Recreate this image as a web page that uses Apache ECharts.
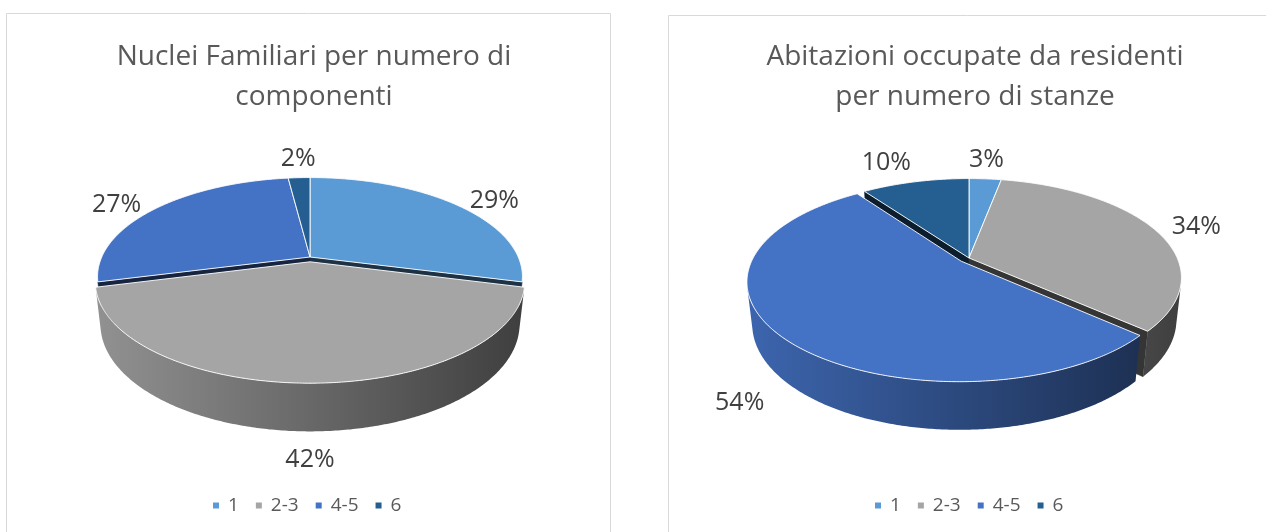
<!DOCTYPE html>
<html>
<head>
<meta charset="utf-8">
<style>
  html, body { margin: 0; background: #fff; }
  #chart { width: 1266px; height: 532px; }
</style>
<script src="https://cdn.jsdelivr.net/npm/echarts@6/dist/echarts.min.js"></script>
</head>
<body>
<div id="chart"></div>
<script>
const categories = ['1', '2-3', '4-5', '6'];
const nucleiValues = [29, 42, 27, 2];
const abitazioniValues = [3, 34, 54, 10];
const nucleiTitle = 'Nuclei Familiari per numero di\ncomponenti';
const abitazioniTitle = 'Abitazioni occupate da residenti\nper numero di stanze';

const sliceColors = ['#5b9bd5', '#a5a5a5', '#4472c4', '#255e91'];
const FONT = '"Open Sans", Lato, sans-serif';
const TEXT = '#595959';

// simple perspective camera for the tilted pies
const ELEV = 27.2 * Math.PI / 180;
const SIN = Math.sin(ELEV);
const COS = Math.cos(ELEV);
const DIST = 4.49;
const FOCAL = 935;
const DEPTH = 0.228;

function project(cx, cy, px, py, pz) {
  const dep = DIST - py * SIN - pz * COS;
  return [cx + FOCAL * px / dep, cy - FOCAL * (py * COS - pz * SIN) / dep];
}

function shade(hex, k) {
  const n = parseInt(hex.slice(1), 16);
  const r = Math.round(((n >> 16) & 255) * k);
  const g = Math.round(((n >> 8) & 255) * k);
  const b = Math.round((n & 255) * k);
  return `rgb(${r},${g},${b})`;
}

function pieSeries(values, cx, cy, explode) {
  const total = values.reduce((a, b) => a + b, 0);
  const starts = [];
  let acc = 0;
  values.forEach((v) => { starts.push(acc); acc += v; });

  return {
    type: 'custom',
    coordinateSystem: 'none',
    silent: true,
    data: values.map((v, i) => ({ name: categories[i], value: [i, v] })),
    renderItem(params, api) {
      const i = api.value(0);
      const v = api.value(1);
      const color = sliceColors[i];
      const a0 = starts[i] / total * 2 * Math.PI;
      const a1 = (starts[i] + v) / total * 2 * Math.PI;
      const am = (a0 + a1) / 2;
      const e = explode[i];
      const ex = e * Math.sin(am);
      const ez = -e * Math.cos(am);
      const P = (px, py, pz) => project(cx, cy, ex + px, py, ez + pz);
      const steps = Math.max(4, Math.ceil((a1 - a0) / 0.01));
      const children = [];

      // top face
      const top = [P(0, 0, 0)];
      const vis = [];
      for (let k = 0; k <= steps; k++) {
        const a = a0 + (a1 - a0) * k / steps;
        top.push(P(Math.sin(a), 0, -Math.cos(a)));
        if (-DIST * COS * Math.cos(a) - 1 - ex * Math.sin(a) + ez * Math.cos(a) > 0) vis.push(a);
      }

      // outer curved side
      if (vis.length > 1) {
        const upper = vis.map((a) => P(Math.sin(a), 0, -Math.cos(a)));
        const lower = vis.map((a) => P(Math.sin(a), -DEPTH, -Math.cos(a))).reverse();
        const mid = vis[Math.floor(vis.length / 2)];
        children.push({
          type: 'polygon',
          z2: Math.round((ez - Math.cos(mid)) * 20) + 50,
          shape: { points: upper.concat(lower) },
          style: {
            fill: new echarts.graphic.LinearGradient(cx - 212, 0, cx + 212, 0, [
              { offset: 0, color: shade(color, 0.88) },
              { offset: 1, color: shade(color, 0.38) }
            ], true)
          }
        });
      }

      // radial faces
      const radial = (a) => ({
        type: 'polygon',
        z2: Math.round((ez - Math.cos(a) / 2) * 20) + 50,
        shape: {
          points: [P(0, 0, 0), P(Math.sin(a), 0, -Math.cos(a)),
                   P(Math.sin(a), -DEPTH, -Math.cos(a)), P(0, -DEPTH, 0)]
        },
        style: { fill: shade(color, 0.32), stroke: shade(color, 0.32), lineWidth: 0.5 }
      });
      if (-DIST * COS * Math.sin(a0) + ex * Math.cos(a0) + ez * Math.sin(a0) > 0) children.push(radial(a0));
      if (DIST * COS * Math.sin(a1) - ex * Math.cos(a1) - ez * Math.sin(a1) > 0) children.push(radial(a1));

      children.push({
        type: 'polygon',
        z2: 100,
        shape: { points: top },
        style: { fill: color, stroke: 'rgba(255,255,255,0.9)', lineWidth: 1 }
      });

      // data label (values are already percentages)
      const dx = Math.sin(am);
      const dz = -Math.cos(am);
      const r = 1.1;
      const anchor = P(dx * r, dz > 0 ? -DEPTH : 0, dz * r);
      children.push({
        type: 'text',
        z2: 200,
        x: anchor[0],
        y: anchor[1],
        style: {
          text: v + '%',
          fill: '#404040',
          fontSize: 25,
          fontFamily: FONT,
          align: dx > 0.25 ? 'left' : (dx < -0.25 ? 'right' : 'center'),
          verticalAlign: dz < -0.8 ? 'bottom' : (dz > 0.5 ? 'top' : 'middle')
        }
      });

      return { type: 'group', children };
    }
  };
}

const chart = echarts.init(document.getElementById('chart'));

const legendBase = {
  data: categories,
  top: 496,
  icon: 'rect',
  itemWidth: 6,
  itemHeight: 6,
  itemGap: 17,
  padding: 0,
  selectedMode: false,
  textStyle: { color: TEXT, fontSize: 19, fontFamily: FONT, padding: [0, 0, 0, 4] }
};

const titleText = { color: TEXT, fontSize: 28, fontWeight: 'normal', fontFamily: FONT, lineHeight: 40 };

chart.setOption({
  backgroundColor: '#fff',
  animation: false,
  title: [
    { text: nucleiTitle, left: 309, top: 32, textAlign: 'center', textStyle: titleText },
    { text: abitazioniTitle, left: 970, top: 32, textAlign: 'center', textStyle: titleText }
  ],
  legend: [
    Object.assign({}, legendBase, { left: 213 }),
    Object.assign({}, legendBase, { left: 875 })
  ],
  graphic: [
    { type: 'rect', silent: true, shape: { x: 6.5, y: 13.5, width: 604, height: 540 },
      style: { fill: 'none', stroke: '#d9d9d9', lineWidth: 1 } },
    { type: 'rect', silent: true, shape: { x: 668.5, y: 15.5, width: 620, height: 540 },
      style: { fill: 'none', stroke: '#d9d9d9', lineWidth: 1 } }
  ],
  series: [
    {
      // only feeds the legend
      type: 'pie',
      silent: true,
      radius: [0, 0],
      center: [-50, -50],
      label: { show: false },
      labelLine: { show: false },
      data: categories.map((name, i) => ({ name, value: 1, itemStyle: { color: sliceColors[i] } }))
    },
    pieSeries(nucleiValues, 310, 257, [0, 0.05, 0, 0]),
    pieSeries(abitazioniValues, 969, 258, [0, 0, 0.05, 0])
  ]
});
</script>
</body>
</html>
